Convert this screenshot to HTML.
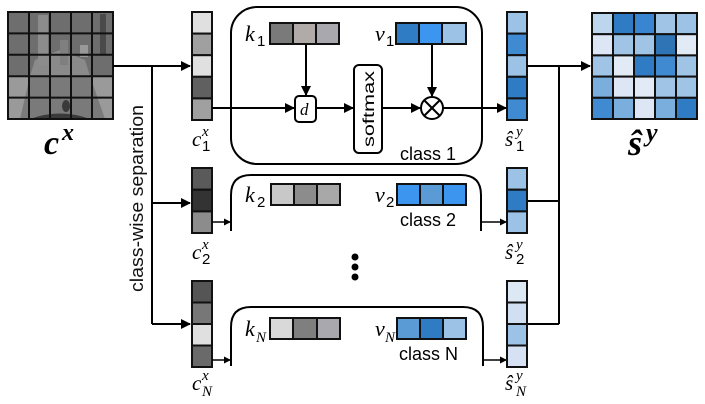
<!DOCTYPE html>
<html><head><meta charset="utf-8"><style>
html,body{margin:0;padding:0;background:#fff;}
svg{display:block;}
.t{font-family:"Liberation Sans","DejaVu Sans",sans-serif;}
.m{font-family:"Liberation Serif","DejaVu Serif",serif;font-style:italic;}
</style></head><body>
<svg width="705" height="404" viewBox="0 0 705 404" xmlns="http://www.w3.org/2000/svg">
<defs>
<marker id="a" markerWidth="10" markerHeight="10" refX="9" refY="5" orient="auto" markerUnits="userSpaceOnUse"><path d="M0,0 L10,5 L0,10 z" fill="#000"/></marker>
<marker id="as" markerWidth="7" markerHeight="7" refX="6" refY="3.5" orient="auto" markerUnits="userSpaceOnUse"><path d="M0,0 L7,3.5 L0,7 z" fill="#000"/></marker>
</defs>

<!-- input image -->
<g>
<rect x="8" y="12" width="105" height="107" fill="#6e6e6e"/>
<rect x="8" y="76" width="105" height="43" fill="#9a9a9a"/>
<path d="M30,76 L60,55 L90,76 L105,119 L20,119 z" fill="#7a7a7a"/>
<path d="M35,60 L60,50 L85,60 L90,76 L30,76 z" fill="#8a8a8a"/>
<rect x="38" y="15" width="10" height="50" fill="#8c8c8c"/>
<rect x="60" y="40" width="8" height="25" fill="#7f7f7f"/>
<rect x="80" y="45" width="8" height="12" fill="#999"/>
<rect x="100" y="14" width="6" height="40" fill="#4a4a4a"/>
<ellipse cx="66" cy="106" rx="4" ry="6" fill="#3a3a3a"/>
<path d="M30,119 Q60,108 90,119 z" fill="#3a3a3a"/>
<g stroke="#111" stroke-width="2" fill="none">
<rect x="8" y="12" width="105" height="107"/>
<line x1="29" y1="12" x2="29" y2="119"/><line x1="50" y1="12" x2="50" y2="119"/><line x1="71" y1="12" x2="71" y2="119"/><line x1="92" y1="12" x2="92" y2="119"/>
<line x1="8" y1="33.4" x2="113" y2="33.4"/><line x1="8" y1="54.8" x2="113" y2="54.8"/><line x1="8" y1="76.2" x2="113" y2="76.2"/><line x1="8" y1="97.6" x2="113" y2="97.6"/>
</g>
</g>
<text x="44" y="154" font-family="Liberation Serif,serif" font-weight="bold" font-style="italic" font-size="34">c</text>
<text x="62" y="140" font-family="Liberation Serif,serif" font-weight="bold" font-style="italic" font-size="24">x</text>

<!-- connectors left -->
<g stroke="#000" stroke-width="2" fill="none">
<line x1="113" y1="66" x2="190" y2="66" marker-end="url(#a)"/>
<line x1="152" y1="66" x2="152" y2="324"/>
<line x1="152" y1="203" x2="190" y2="203" marker-end="url(#a)"/>
<line x1="152" y1="324" x2="190" y2="324" marker-end="url(#a)"/>
</g>
<text class="t" font-size="18" textLength="187" lengthAdjust="spacingAndGlyphs" transform="translate(143,292) rotate(-90)" fill="#111">class-wise separation</text>

<!-- c1 column -->
<g stroke="#111" stroke-width="2">
<rect x="192" y="12" width="20" height="21.6" fill="#e0e0e0"/>
<rect x="192" y="33.6" width="20" height="21.6" fill="#a0a0a0"/>
<rect x="192" y="55.2" width="20" height="21.6" fill="#e0e0e0"/>
<rect x="192" y="76.8" width="20" height="21.6" fill="#606060"/>
<rect x="192" y="98.4" width="20" height="21.6" fill="#a0a0a0"/>
</g>
<text class="m" x="192" y="146" font-size="21">c</text><text class="m" x="202" y="136" font-size="15">x</text><text class="t" x="202" y="151" font-size="15">1</text>

<!-- class 1 box -->
<rect x="231" y="7" width="251" height="157" rx="26" fill="none" stroke="#000" stroke-width="2"/>
<g stroke="#000" stroke-width="2" fill="none">
<line x1="212" y1="108" x2="294" y2="108" marker-end="url(#a)"/>
<line x1="306" y1="44" x2="306" y2="95" marker-end="url(#a)"/>
<line x1="316" y1="108" x2="353" y2="108" marker-end="url(#a)"/>
<line x1="382" y1="108" x2="420" y2="108" marker-end="url(#a)"/>
<line x1="432" y1="44" x2="432" y2="96" marker-end="url(#a)"/>
<line x1="443" y1="108" x2="506" y2="108" marker-end="url(#a)"/>
</g>
<rect x="295" y="96" width="21" height="26" rx="4" fill="#fff" stroke="#000" stroke-width="2"/>
<text class="m" x="300" y="115" font-size="17">d</text>
<rect x="354" y="65" width="28" height="88" rx="5" fill="#fff" stroke="#000" stroke-width="2"/>
<text class="t" font-size="16" textLength="76" lengthAdjust="spacingAndGlyphs" transform="translate(374,147) rotate(-90)">softmax</text>
<circle cx="432" cy="108" r="11" fill="#fff" stroke="#000" stroke-width="2"/>
<line x1="424" y1="100" x2="440" y2="116" stroke="#000" stroke-width="2"/>
<line x1="440" y1="100" x2="424" y2="116" stroke="#000" stroke-width="2"/>
<text class="m" x="245" y="41" font-size="22">k</text><text class="t" x="257" y="46" font-size="15">1</text>
<g stroke="#111" stroke-width="2">
<rect x="270" y="23" width="23" height="21" fill="#7a7a7a"/><rect x="293" y="23" width="23" height="21" fill="#b0aaa8"/><rect x="316" y="23" width="23" height="21" fill="#a8a8ae"/>
<rect x="396" y="23" width="23" height="21" fill="#2f7cc4"/><rect x="419" y="23" width="23" height="21" fill="#3c96f0"/><rect x="442" y="23" width="24" height="21" fill="#9cc3e6"/>
</g>
<text class="m" x="375" y="41" font-size="22">v</text><text class="t" x="386" y="46" font-size="15">1</text>
<text class="t" x="400" y="160" font-size="18">class 1</text>

<!-- s1 column -->
<g stroke="#111" stroke-width="2">
<rect x="507" y="12" width="20" height="21.6" fill="#9cc3e6"/>
<rect x="507" y="33.6" width="20" height="21.6" fill="#3f8ad0"/>
<rect x="507" y="55.2" width="20" height="21.6" fill="#9cc3e6"/>
<rect x="507" y="76.8" width="20" height="21.6" fill="#2f7cc4"/>
<rect x="507" y="98.4" width="20" height="21.6" fill="#3f8ad0"/>
</g>
<text class="m" x="505" y="146" font-size="21">ŝ</text><text class="m" x="516" y="136" font-size="15">y</text><text class="t" x="516" y="151" font-size="15">1</text>

<!-- right connectors -->
<g stroke="#000" stroke-width="2" fill="none">
<line x1="527" y1="66" x2="590" y2="66" marker-end="url(#a)"/>
<line x1="559" y1="66" x2="559" y2="324"/>
<line x1="527" y1="201" x2="559" y2="201"/>
<line x1="527" y1="324" x2="559" y2="324"/>
</g>

<!-- output matrix -->
<g stroke="#111" stroke-width="2">
<rect x="592" y="13" width="21" height="21.2" fill="#bcd6ee"/><rect x="613" y="13" width="21" height="21.2" fill="#2f7cc4"/><rect x="634" y="13" width="21" height="21.2" fill="#3985d2"/><rect x="655" y="13" width="21" height="21.2" fill="#a0c4e6"/><rect x="676" y="13" width="21" height="21.2" fill="#9cc3e6"/>
<rect x="592" y="34.2" width="21" height="21.2" fill="#dde6f5"/><rect x="613" y="34.2" width="21" height="21.2" fill="#a0c4e6"/><rect x="634" y="34.2" width="21" height="21.2" fill="#a0c4e6"/><rect x="655" y="34.2" width="21" height="21.2" fill="#2f74b5"/><rect x="676" y="34.2" width="21" height="21.2" fill="#e2eaf6"/>
<rect x="592" y="55.4" width="21" height="21.2" fill="#a0c4e6"/><rect x="613" y="55.4" width="21" height="21.2" fill="#e2eaf6"/><rect x="634" y="55.4" width="21" height="21.2" fill="#2f7cc4"/><rect x="655" y="55.4" width="21" height="21.2" fill="#3f8ad0"/><rect x="676" y="55.4" width="21" height="21.2" fill="#a0c4e6"/>
<rect x="592" y="76.6" width="21" height="21.2" fill="#7aaedc"/><rect x="613" y="76.6" width="21" height="21.2" fill="#dde6f5"/><rect x="634" y="76.6" width="21" height="21.2" fill="#e2eaf6"/><rect x="655" y="76.6" width="21" height="21.2" fill="#a0c4e6"/><rect x="676" y="76.6" width="21" height="21.2" fill="#a0c4e6"/>
<rect x="592" y="97.8" width="21" height="21.2" fill="#3f8ad0"/><rect x="613" y="97.8" width="21" height="21.2" fill="#7aaedc"/><rect x="634" y="97.8" width="21" height="21.2" fill="#dde6f5"/><rect x="655" y="97.8" width="21" height="21.2" fill="#7aaedc"/><rect x="676" y="97.8" width="21" height="21.2" fill="#2f7cc4"/>
</g>
<text x="628" y="155" font-family="Liberation Serif,serif" font-weight="bold" font-style="italic" font-size="36">ŝ</text>
<text x="646" y="141" font-family="Liberation Serif,serif" font-weight="bold" font-style="italic" font-size="26">y</text>

<!-- row 2 -->
<g stroke="#111" stroke-width="2">
<rect x="192" y="168" width="20" height="21.7" fill="#5a5a5a"/><rect x="192" y="189.7" width="20" height="21.7" fill="#333"/><rect x="192" y="211.4" width="20" height="21.6" fill="#8c8c8c"/>
</g>
<text class="m" x="192" y="259" font-size="21">c</text><text class="m" x="202" y="249" font-size="15">x</text><text class="t" x="202" y="264" font-size="15">2</text>
<path d="M231,231 L231,195 Q231,175 251,175 L461,175 Q481,175 481,195 L481,231" fill="none" stroke="#000" stroke-width="2"/>
<line x1="212" y1="222" x2="230" y2="222" stroke="#000" stroke-width="1.5" marker-end="url(#as)"/>
<line x1="481" y1="222" x2="506" y2="222" stroke="#000" stroke-width="1.5" marker-end="url(#as)"/>
<text class="m" x="245" y="202" font-size="22">k</text><text class="t" x="257" y="207" font-size="15">2</text>
<g stroke="#111" stroke-width="2">
<rect x="271" y="184" width="23" height="21" fill="#c8c8c8"/><rect x="294" y="184" width="23" height="21" fill="#8c8c8c"/><rect x="317" y="184" width="23" height="21" fill="#a8a8a8"/>
<rect x="397" y="184" width="23" height="21" fill="#3c96f0"/><rect x="420" y="184" width="23" height="21" fill="#5b9bd5"/><rect x="443" y="184" width="23" height="21" fill="#3c96f0"/>
</g>
<text class="m" x="375" y="202" font-size="22">v</text><text class="t" x="386" y="207" font-size="15">2</text>
<text class="t" x="400" y="226" font-size="18">class 2</text>
<g stroke="#111" stroke-width="2">
<rect x="507" y="168" width="20" height="21.7" fill="#9cc3e6"/><rect x="507" y="189.7" width="20" height="21.7" fill="#2f7cc4"/><rect x="507" y="211.4" width="20" height="21.6" fill="#9cc3e6"/>
</g>
<text class="m" x="505" y="259" font-size="21">ŝ</text><text class="m" x="516" y="249" font-size="15">y</text><text class="t" x="516" y="264" font-size="15">2</text>

<!-- dots -->
<circle cx="355" cy="257" r="3.5" fill="#000"/><circle cx="355" cy="267" r="3.5" fill="#000"/><circle cx="355" cy="277" r="3.5" fill="#000"/>

<!-- row N -->
<g stroke="#111" stroke-width="2">
<rect x="192" y="281" width="20" height="21.5" fill="#555"/><rect x="192" y="302.5" width="20" height="21.5" fill="#777"/><rect x="192" y="324" width="20" height="21.5" fill="#e0e0e0"/><rect x="192" y="345.5" width="20" height="21.5" fill="#6a6a6a"/>
</g>
<text class="m" x="192" y="390" font-size="21">c</text><text class="m" x="202" y="380" font-size="15">x</text><text class="m" x="202" y="396" font-size="15">N</text>
<path d="M231,366 L231,327 Q231,307 251,307 L463,307 Q483,307 483,327 L483,366" fill="none" stroke="#000" stroke-width="2"/>
<line x1="212" y1="360" x2="230" y2="360" stroke="#000" stroke-width="1.5" marker-end="url(#as)"/>
<line x1="483" y1="360" x2="506" y2="360" stroke="#000" stroke-width="1.5" marker-end="url(#as)"/>
<text class="m" x="245" y="336" font-size="22">k</text><text class="m" x="256" y="342" font-size="15">N</text>
<g stroke="#111" stroke-width="2">
<rect x="270" y="318" width="23" height="21" fill="#d9d9d9"/><rect x="293" y="318" width="24" height="21" fill="#7f7f7f"/><rect x="317" y="318" width="23" height="21" fill="#a8a8ae"/>
<rect x="397" y="318" width="23" height="21" fill="#5b9bd5"/><rect x="420" y="318" width="23" height="21" fill="#2f7cc4"/><rect x="443" y="318" width="23" height="21" fill="#9cc3e6"/>
</g>
<text class="m" x="375" y="336" font-size="22">v</text><text class="m" x="385" y="342" font-size="15">N</text>
<text class="t" x="399" y="360" font-size="18">class N</text>
<g stroke="#111" stroke-width="2">
<rect x="507" y="281" width="20" height="21.5" fill="#dde8f5"/><rect x="507" y="302.5" width="20" height="21.5" fill="#d0dff2"/><rect x="507" y="324" width="20" height="21.5" fill="#9cc3e6"/><rect x="507" y="345.5" width="20" height="21.5" fill="#d6e2f4"/>
</g>
<text class="m" x="505" y="390" font-size="21">ŝ</text><text class="m" x="516" y="380" font-size="15">y</text><text class="m" x="516" y="396" font-size="15">N</text>
</svg>
</body></html>
